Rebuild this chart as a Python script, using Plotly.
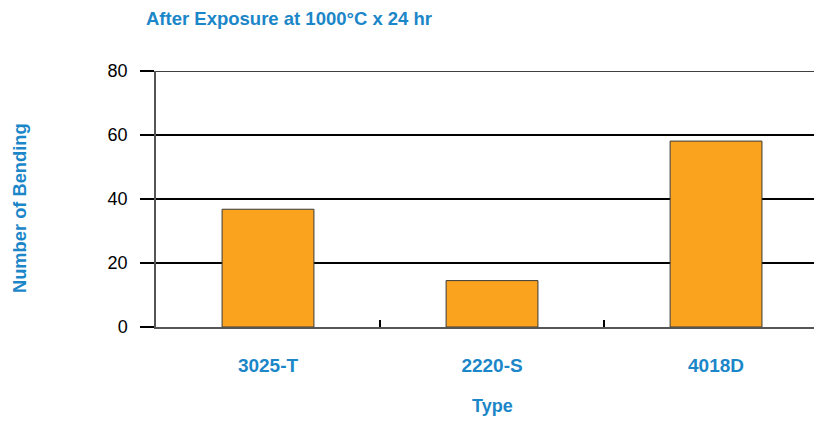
import plotly.graph_objects as go

categories = ["3025-T", "2220-S", "4018D"]
values = [36.8, 14.5, 58.1]
y_ticks = [0, 20, 40, 60, 80]

BLUE = "#1b86c8"
FONT = "Liberation Sans, Arial, sans-serif"

# page body has an 8px default margin; size the figure to fit the window
OFF = 8
W, H = 822 - OFF, 423 - OFF

fig = go.Figure()
fig.add_trace(go.Bar(
    x=list(range(len(categories))), y=values, width=0.41,
    marker=dict(color="#f9a31f", line=dict(color="#3a3a3a", width=1)),
))

fig.update_layout(
    width=W, height=H,
    margin=dict(l=156 - OFF, r=0, t=71 - OFF, b=96, autoexpand=False),
    plot_bgcolor="white", paper_bgcolor="white",
    showlegend=False,
    font=dict(family=FONT),
    title=dict(text="<b>After Exposure at 1000°C x 24 hr</b>",
               font=dict(size=18.5, color=BLUE, family=FONT),
               xref="container", x=(146 - OFF) / W, xanchor="left",
               yref="container", y=1 - (19 - OFF) / H, yanchor="middle"),
)
fig.update_xaxes(
    range=[-0.5, 2.473],
    tickmode="array", tickvals=list(range(len(categories))),
    ticktext=[f"<b>{c}</b>" for c in categories],
    showline=True, linecolor="#555555", linewidth=2,
    ticks="", showgrid=False, zeroline=False,
    tickfont=dict(size=19, color=BLUE, family=FONT),
    ticklabelstandoff=20,
)
# minor boundary ticks between categories
fig.update_xaxes(minor=dict(tickmode="array", tickvals=[0.5, 1.5], ticks="inside",
                            ticklen=7, tickwidth=2, tickcolor="black", showgrid=False))
fig.update_yaxes(
    range=[0, 80], tickvals=y_ticks,
    showline=True, linecolor="#555555", linewidth=1.5,
    ticks="outside", ticklen=14, tickwidth=1.5, tickcolor="black",
    showgrid=True, gridcolor="black", gridwidth=1.5,
    zeroline=False,
    tickfont=dict(size=18, color="black", family=FONT),
    ticklabelstandoff=9,
)
# top gridline (plotly omits the gridline at the range edge)
fig.add_shape(type="line", xref="paper", yref="y", x0=0, x1=1,
              y0=y_ticks[-1], y1=y_ticks[-1], line=dict(color="black", width=1.5))
fig.add_annotation(text="<b>Number of Bending</b>", textangle=-90,
                   xref="paper", yref="paper", x=0, y=(327 - 208) / 256,
                   xanchor="center", yanchor="middle",
                   xshift=-137, showarrow=False,
                   font=dict(size=18.3, color=BLUE, family=FONT))
fig.add_annotation(text="<b>Type</b>",
                   xref="x", yref="paper", x=1, y=-(406 - 327) / 256,
                   showarrow=False, yanchor="middle",
                   font=dict(size=18, color=BLUE, family=FONT))

fig.write_html("out.html")
